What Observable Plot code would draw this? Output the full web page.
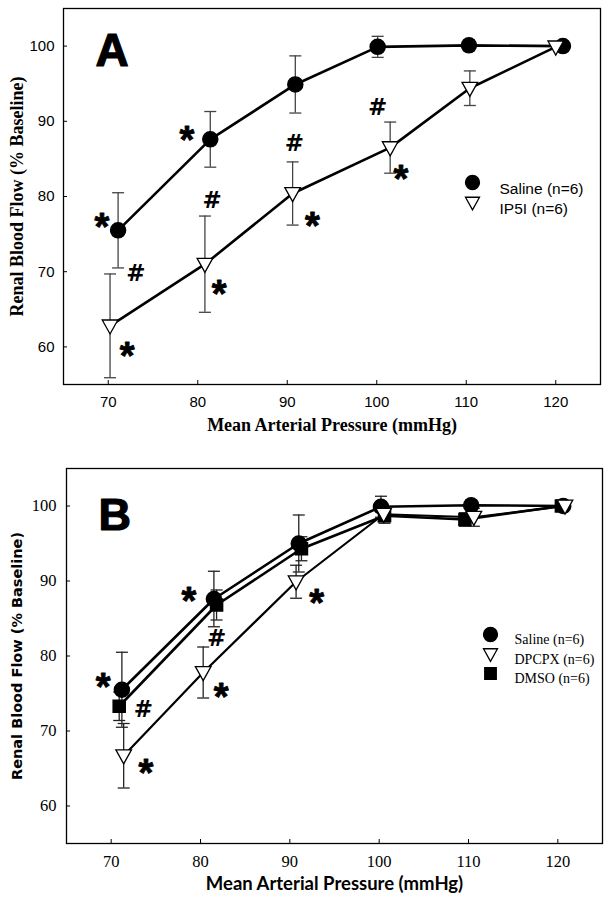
<!DOCTYPE html>
<html><head><meta charset="utf-8">
<script src="https://cdn.jsdelivr.net/npm/d3@7"></script>
<script src="https://cdn.jsdelivr.net/npm/@observablehq/plot@0.6"></script>
<style>
body{margin:0;background:#fff;}
#wrap{position:relative;width:611px;height:906px;overflow:hidden;}
#a{position:absolute;left:0;top:0;}
#b{position:absolute;left:0;top:440px;}
</style></head><body><div id="wrap"><div id="a"></div><div id="b"></div></div>
<script>
// ---------- Panel A data ----------
const aSalineMAP = [71.1, 81.4, 90.9, 100.1, 110.3, 120.8];
const aSalineRBF = [75.5, 87.6, 94.9, 99.9, 100.1, 100.0];
const aSalineSEM = [5.0, 3.7, 3.8, 1.4, 0.7, 0];
const aIP5IMAP = [70.2, 80.8, 90.6, 101.5, 110.4, 120.0];
const aIP5IRBF = [62.8, 71.0, 80.4, 86.5, 94.4, 99.9];
const aIP5ISEM = [6.9, 6.4, 4.2, 3.4, 2.3, 0];
const aLegend = ["Saline (n=6)", "IP5I (n=6)"];
const aMarkText = ["*", "#", "*", "*", "#", "*", "#", "*", "#", "*"];
const aMarkMAP = [69.3, 73.1, 72.1, 78.8, 81.6, 82.4, 90.8, 92.8, 100.1, 102.7];
const aMarkRBF = [77.1, 69.7, 60.0, 88.7, 79.4, 68.2, 87.0, 77.3, 91.8, 83.5];

// ---------- Panel B data ----------
const bSalineMAP = [71.2, 81.5, 91.0, 100.2, 110.3, 120.6];
const bSalineRBF = [75.5, 87.6, 95.0, 99.9, 100.1, 100.0];
const bSalineSEM = [5.0, 3.7, 3.8, 1.4, 0.7, 0];
const bDPCPXMAP = [71.4, 80.3, 90.7, 100.5, 110.6, 120.8];
const bDPCPXRBF = [66.7, 77.8, 89.9, 98.9, 98.5, 100.0];
const bDPCPXSEM = [4.3, 3.4, 2.2, 1.0, 1.2, 0];
const bDMSOMAP = [70.9, 81.8, 91.3, 100.6, 109.6, 120.4];
const bDMSORBF = [73.3, 86.8, 94.3, 98.7, 98.2, 100.0];
const bDMSOSEM = [1.9, 2.0, 1.6, 1.0, 0.9, 0];
const bLegend = ["Saline (n=6)", "DPCPX (n=6)", "DMSO (n=6)"];
const bMarkText = ["*", "#", "*", "*", "#", "*", "*"];
const bMarkMAP = [69.1, 73.6, 73.9, 78.7, 81.8, 82.3, 93.0];
const bMarkRBF = [77.1, 72.9, 65.6, 88.5, 82.3, 75.8, 88.3];

const xTicks = [70, 80, 90, 100, 110, 120];
const yTicks = [60, 70, 80, 90, 100];
const xDomain = [65, 125];
const yDomain = [55, 105];

// ---------- helpers ----------
const triDown = {
  draw(ctx, size) {
    const r = Math.sqrt(size / Math.PI);
    ctx.moveTo(-r, -0.75 * r);
    ctx.lineTo(r, -0.75 * r);
    ctx.lineTo(0, 1.05 * r);
    ctx.closePath();
  }
};
const capSym = {
  draw(ctx, size) {
    const r = Math.sqrt(size / Math.PI);
    ctx.moveTo(-r, 0);
    ctx.lineTo(r, 0);
  }
};
const series = (xs, ys, es) => xs.map((x, i) => ({x, y: ys[i], e: es[i]}));
const marksOf = (t, xs, ys) => t.map((s, i) => ({s, x: xs[i], y: ys[i]}));

function errMarks(d, color) {
  const e = d.filter(p => p.e > 0);
  return [
    Plot.ruleX(e, {x: "x", y1: p => p.y - p.e, y2: p => p.y + p.e, stroke: color, strokeWidth: 1.3}),
    Plot.dot(e, {x: "x", y: p => p.y + p.e, symbol: capSym, r: 6, fill: "none", stroke: color, strokeWidth: 1.3}),
    Plot.dot(e, {x: "x", y: p => p.y - p.e, symbol: capSym, r: 6, fill: "none", stroke: color, strokeWidth: 1.3})
  ];
}
function annot(m) {
  return [
    Plot.text(m.filter(d => d.s === "*"), {x: "x", y: "y", text: "s", fontSize: 38, fontWeight: "bold", fontFamily: "Liberation Sans", dy: 10, fill: "black", stroke: "black", strokeWidth: 0.8}),
    Plot.text(m.filter(d => d.s === "#"), {x: "x", y: "y", text: "s", fontSize: 23, fontWeight: "bold", fontFamily: "DejaVu Sans", fill: "black"})
  ];
}
function legendMarks(labels, syms, dx, dy0, gap, tdx, font, fs) {
  const out = [];
  labels.forEach((lab, i) => {
    const s = syms[i];
    out.push(Plot.dot([lab], {frameAnchor: "top-left", dx, dy: dy0 + i * gap, symbol: s.symbol, r: s.r, fill: s.fill, stroke: "black", strokeWidth: 1.3}));
    out.push(Plot.text([lab], {frameAnchor: "top-left", dx: tdx, dy: dy0 + i * gap, text: d => d, textAnchor: "start", fontFamily: font, fontSize: fs, fill: "black"}));
  });
  return out;
}

// ---------- Panel A ----------
const aSal = series(aSalineMAP, aSalineRBF, aSalineSEM);
const aIP = series(aIP5IMAP, aIP5IRBF, aIP5ISEM);
const plotA = Plot.plot({
  width: 611, height: 440,
  marginLeft: 63, marginRight: 11, marginTop: 8, marginBottom: 56,
  x: {domain: xDomain}, y: {domain: yDomain},
  style: {background: "white", color: "black"},
  marks: [
    Plot.frame({stroke: "black", strokeWidth: 1.3}),
    Plot.axisX({ticks: xTicks, tickSize: -4, fill: "none", label: null}),
    Plot.axisX({ticks: xTicks, tickSize: 0, tickPadding: 12, label: null, fontSize: 15, fontFamily: "Liberation Sans"}),
    Plot.axisY({ticks: yTicks, tickSize: -4, fill: "none", label: null}),
    Plot.axisY({ticks: yTicks, tickSize: 0, tickPadding: 9, label: null, fontSize: 15, fontFamily: "Liberation Sans"}),
    Plot.text(["Renal Blood Flow (% Baseline)"], {frameAnchor: "left", dx: -46, rotate: -90, textAnchor: "middle", fontSize: 18, fontWeight: "bold", fontFamily: "Liberation Serif"}),
    Plot.text(["Mean Arterial Pressure (mmHg)"], {frameAnchor: "bottom", dy: 46, textAnchor: "middle", fontSize: 18, fontWeight: "bold", fontFamily: "Liberation Serif"}),
    Plot.text(["A"], {frameAnchor: "top-left", dx: 32, dy: 57, lineAnchor: "bottom", textAnchor: "start", fontSize: 46, fontWeight: "bold", fontFamily: "Liberation Sans", fill: "black", stroke: "black", strokeWidth: 1.2}),
    ...errMarks(aSal, "#444"),
    ...errMarks(aIP, "#444"),
    Plot.line(aSal, {x: "x", y: "y", stroke: "black", strokeWidth: 2.6}),
    Plot.line(aIP, {x: "x", y: "y", stroke: "black", strokeWidth: 2.6}),
    Plot.dot(aSal, {x: "x", y: "y", r: 7.5, fill: "black", stroke: "black"}),
    Plot.dot(aIP, {x: "x", y: "y", symbol: triDown, r: 7.8, fill: "white", stroke: "black", strokeWidth: 1.3}),
    ...annot(marksOf(aMarkText, aMarkMAP, aMarkRBF)),
    ...legendMarks(aLegend, [{symbol: "circle", r: 7, fill: "black"}, {symbol: triDown, r: 7, fill: "white"}], 409, 174, 20, 436, "Liberation Sans", 15.5)
  ]
});
document.getElementById("a").appendChild(plotA);

// ---------- Panel B ----------
const bSal = series(bSalineMAP, bSalineRBF, bSalineSEM);
const bDP = series(bDPCPXMAP, bDPCPXRBF, bDPCPXSEM);
const bDM = series(bDMSOMAP, bDMSORBF, bDMSOSEM);
const plotB = Plot.plot({
  width: 611, height: 466,
  marginLeft: 66, marginRight: 9, marginTop: 28, marginBottom: 63,
  x: {domain: xDomain}, y: {domain: yDomain},
  style: {background: "white", color: "black"},
  marks: [
    Plot.frame({stroke: "black", strokeWidth: 1.3}),
    Plot.axisX({ticks: xTicks, tickSize: -4, fill: "none", label: null}),
    Plot.axisX({ticks: xTicks, tickSize: 0, tickPadding: 12, label: null, fontSize: 16.5, fontFamily: "Liberation Serif"}),
    Plot.axisY({ticks: yTicks, tickSize: -4, fill: "none", label: null}),
    Plot.axisY({ticks: yTicks, tickSize: 0, tickPadding: 10, label: null, fontSize: 16.5, fontFamily: "Liberation Serif"}),
    Plot.text(["Renal Blood Flow (% Baseline)"], {frameAnchor: "left", dx: -49, rotate: -90, textAnchor: "middle", fontSize: 14.5, fontWeight: "bold", fontFamily: "DejaVu Sans"}),
    Plot.text(["Mean Arterial Pressure (mmHg)"], {frameAnchor: "bottom", dy: 46, textAnchor: "middle", fontSize: 18.5, fontWeight: "bold", fontFamily: "Lato"}),
    Plot.text(["B"], {frameAnchor: "top-left", dx: 32, dy: 61, lineAnchor: "bottom", textAnchor: "start", fontSize: 45, fontWeight: "bold", fontFamily: "Liberation Sans", fill: "black", stroke: "black", strokeWidth: 1.2}),
    ...errMarks(bSal, "#222"),
    ...errMarks(bDM, "#222"),
    ...errMarks(bDP, "#222"),
    Plot.line(bSal, {x: "x", y: "y", stroke: "black", strokeWidth: 2.6}),
    Plot.line(bDM, {x: "x", y: "y", stroke: "black", strokeWidth: 2.6}),
    Plot.line(bDP, {x: "x", y: "y", stroke: "black", strokeWidth: 2.2}),
    Plot.dot(bSal, {x: "x", y: "y", r: 7.5, fill: "black", stroke: "black"}),
    Plot.dot(bDM, {x: "x", y: "y", symbol: "square", r: 6.8, fill: "black", stroke: "black"}),
    Plot.dot(bDP, {x: "x", y: "y", symbol: triDown, r: 7.8, fill: "white", stroke: "black", strokeWidth: 1.3}),
    ...annot(marksOf(bMarkText, bMarkMAP, bMarkRBF)),
    ...legendMarks(bLegend, [{symbol: "circle", r: 7, fill: "black"}, {symbol: triDown, r: 7, fill: "white"}, {symbol: "square", r: 6.5, fill: "black"}], 424, 166, 19.5, 448, "Liberation Serif", 14)
  ]
});
document.getElementById("b").appendChild(plotB);
</script>
</body></html>
